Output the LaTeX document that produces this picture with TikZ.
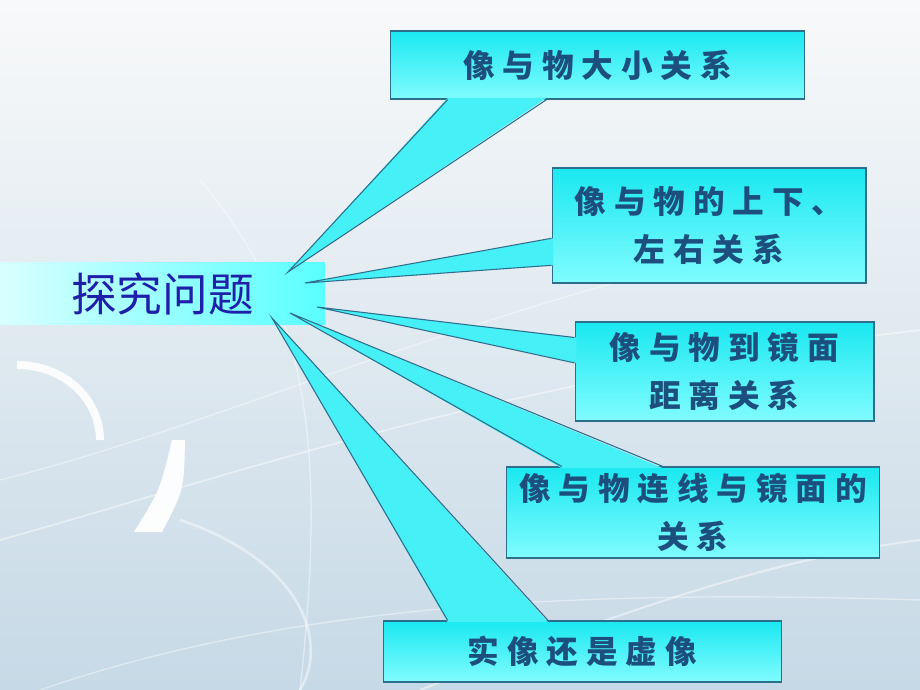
\documentclass[tikz,border=0pt]{standalone}
\usepackage{fontspec}
\usepackage{xcolor}
\usepackage{tikz}
\setmainfont{Noto Sans CJK SC}
\newfontfamily\boxfont[LetterSpace=25]{Noto Sans CJK SC}
\definecolor{boxline}{HTML}{2D6E8C}
\definecolor{boxtop}{HTML}{1AE8F0}
\definecolor{boxbottom}{HTML}{80FCFF}
\definecolor{wedgecyan}{HTML}{45F1F6}
\definecolor{boxtext}{HTML}{1D4F7E}
\definecolor{titleblue}{HTML}{1F1FAA}
\definecolor{bgtop}{HTML}{F8F9FA}
\definecolor{bgmid}{HTML}{EAF0F4}
\definecolor{bgbottom}{HTML}{C6D9E6}
\usetikzlibrary{calc, positioning}

\begin{document}
\begin{tikzpicture}[x=0.02cm, y=-0.02cm,
	callout/.style={draw=boxline, line width=0.6pt, rectangle, align=center, inner sep=2pt, top color=boxtop, bottom color=boxbottom, text=boxtext, font=\boxfont\bfseries\fontsize{18pt}{27pt}\selectfont},
	wedge/.style={fill=wedgecyan},
	wedgeline/.style={draw=boxline, line width=0.6pt, line join=miter}]
	\useasboundingbox (0,0) rectangle (920,690);
	
	% background
	\shade[top color=bgtop, middle color=bgmid, bottom color=bgbottom] (0,0) rectangle (920,690);
	\draw[white, line width=0.16cm, opacity=.9] (17,365) .. controls (65,365) and (100,400) .. (100,440);
	\fill[white, opacity=.95] (172,440) -- (185,440) .. controls (184,490) .. (162,532) -- (134,532) .. controls (160,490) .. (172,440);
	\draw[white, line width=1pt, opacity=.45] (0,540) .. controls (250,470) and (500,380) .. (920,330);
	\draw[white, line width=0.8pt, opacity=.4] (0,480) .. controls (200,430) and (420,330) .. (700,260);
	\draw[white, line width=1.5pt, opacity=.45] (180,520) .. controls (300,560) and (330,640) .. (300,690);
	\draw[white, line width=1.2pt, opacity=.45] (420,690) .. controls (600,620) and (760,560) .. (920,540);
	\draw[white, line width=0.8pt, opacity=.4] (200,180) .. controls (300,300) and (330,420) .. (300,690);
	\draw[white, line width=0.8pt, opacity=.4] (40,690) .. controls (300,600) and (600,590) .. (920,600);
	
	\node[rectangle, minimum width=6.5cm, minimum height=1.26cm, inner sep=0pt, left color=white!85!cyan, right color=cyan!65!white, text=titleblue, font=\fontsize{26pt}{30pt}\selectfont] (problem) at (162.5,293.5) {探究问题};
	
	\node[callout, minimum width=8.3cm, minimum height=1.36cm] (size) at (597.5,65) {像与物大小关系};
	
	\node[callout, minimum width=6.28cm, minimum height=2.3cm] (updown) at (709,225.5) {像与物的上下、\\左右关系};
	
	\node[callout, minimum width=5.98cm, minimum height=1.98cm] (distance) at (724.5,371.5) {像与物到镜面\\距离关系};
	
	\node[callout, minimum width=7.48cm, minimum height=1.82cm] (line) at (693,512.5) {像与物连线与镜面的\\关系};
	
	\node[callout, minimum width=7.98cm, minimum height=1.22cm] (realvirtual) at (582.5,651.5) {实像还是虚像};
	
	% wedge tips near the title
	\coordinate (t1) at (288,272);
	\coordinate (t2) at (305,283);
	\coordinate (t3) at (317,307);
	\coordinate (t4) at (290,313);
	\coordinate (t5) at (272,318);
	
	% wedge bases on the boxes
	\coordinate (w1a) at ($(size.south west)!.14!(size.south east)$);
	\coordinate (w1b) at ($(size.south west)!.378!(size.south east)$);
	\coordinate (w2a) at ($(updown.north west)!.61!(updown.south west)$);
	\coordinate (w2b) at ($(updown.north west)!.843!(updown.south west)$);
	\coordinate (w3a) at ($(distance.north west)!.16!(distance.south west)$);
	\coordinate (w3b) at ($(distance.north west)!.414!(distance.south west)$);
	\coordinate (w4a) at ($(line.north west)!.15!(line.north east)$);
	\coordinate (w4b) at ($(line.north west)!.42!(line.north east)$);
	\coordinate (w5a) at ($(realvirtual.north west)!.163!(realvirtual.north east)$);
	\coordinate (w5b) at ($(realvirtual.north west)!.414!(realvirtual.north east)$);
	
	\fill[wedge] ([yshift=1pt]w1a) -- (t1) -- ([yshift=1pt]w1b) -- cycle;
	\draw[wedgeline] (w1a) -- (t1) -- (w1b);
	
	\fill[wedge] ([xshift=1pt]w2a) -- (t2) -- ([xshift=1pt]w2b) -- cycle;
	\draw[wedgeline] (w2a) -- (t2) -- (w2b);
	
	\fill[wedge] ([xshift=1pt]w3a) -- (t3) -- ([xshift=1pt]w3b) -- cycle;
	\draw[wedgeline] (w3a) -- (t3) -- (w3b);
	
	\fill[wedge] ([yshift=-1pt]w4a) -- (t4) -- ([yshift=-1pt]w4b) -- cycle;
	\draw[wedgeline] (w4a) -- (t4) -- (w4b);
	
	\fill[wedge] ([yshift=-1pt]w5a) -- (t5) -- ([yshift=-1pt]w5b) -- cycle;
	\draw[wedgeline] (w5a) -- (t5) -- (w5b);
\end{tikzpicture}
\end{document}
